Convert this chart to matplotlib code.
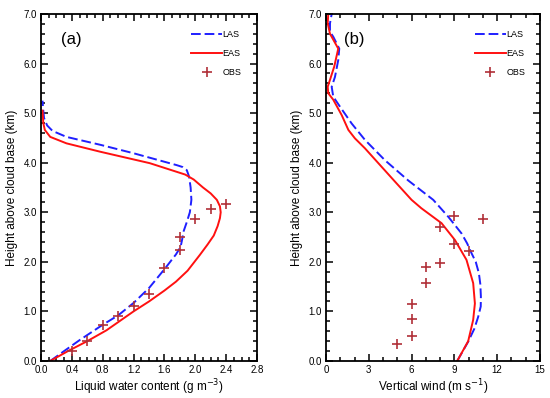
import numpy as np
import matplotlib
matplotlib.use("Agg")
import matplotlib.pyplot as plt
from matplotlib.ticker import MultipleLocator, FormatStrFormatter

# panel (a): liquid water content
lwc_las_x = [0.12, 0.3, 0.5, 0.8, 1.0, 1.2, 1.4, 1.6, 1.75, 1.81, 1.83, 1.85, 1.89, 1.93, 1.95,
             1.94, 1.92, 1.89, 1.84, 1.76, 1.2, 0.77, 0.33, 0.15, 0.08, 0.04, 0.03, 0.02]
lwc_las_y = [0.0, 0.2, 0.42, 0.73, 0.92, 1.17, 1.47, 1.85, 2.15, 2.3, 2.45, 2.62, 2.8, 3.0, 3.25,
             3.5, 3.72, 3.85, 3.91, 3.95, 4.19, 4.36, 4.52, 4.64, 4.75, 4.9, 5.05, 5.25]
lwc_eas_x = [0.12, 0.35, 0.6, 0.85, 1.2, 1.4, 1.6, 1.75, 1.9, 2.06, 2.16, 2.24, 2.29, 2.32, 2.33,
             2.32, 2.28, 2.2, 2.1, 1.98, 1.87, 1.41, 0.77, 0.33, 0.12, 0.05, 0.03, 0.02]
lwc_eas_y = [0.0, 0.2, 0.4, 0.62, 1.0, 1.2, 1.42, 1.6, 1.82, 2.14, 2.35, 2.53, 2.72, 2.88, 3.0,
             3.12, 3.25, 3.38, 3.5, 3.66, 3.76, 3.99, 4.22, 4.39, 4.52, 4.66, 4.8, 5.05]
lwc_obs_x = [0.4, 0.6, 0.8, 1.0, 1.2, 1.4, 1.6, 1.8, 1.8, 2.0, 2.2, 2.4]
lwc_obs_y = [0.21, 0.40, 0.73, 0.90, 1.10, 1.35, 1.88, 2.24, 2.50, 2.86, 3.06, 3.17]

# panel (b): vertical wind
w_las_x = [9.2, 9.97, 10.4, 10.67, 10.85, 10.86, 10.82, 10.72, 10.5, 10.21, 9.9, 9.51, 8.57,
           7.52, 5.77, 4.13, 2.73, 1.8, 0.98, 0.51, 0.4, 0.63, 0.86, 0.93, 0.51, 0.28, 0.28, 0.4]
w_las_y = [0.0, 0.39, 0.65, 0.89, 1.1, 1.3, 1.55, 1.77, 2.0, 2.17, 2.37, 2.57, 2.91,
           3.25, 3.64, 4.05, 4.46, 4.79, 5.13, 5.33, 5.53, 5.73, 6.07, 6.3, 6.54, 6.64, 6.81, 7.0]
w_eas_x = [9.2, 9.97, 10.32, 10.44, 10.32, 9.85, 9.04, 8.1, 6.69, 6.0, 4.83, 3.67, 2.73,
           2.03, 1.57, 1.1, 0.51, 0.16, 0.12, 0.28, 0.58, 0.86, 0.28, 0.12, 0.16]
w_eas_y = [0.0, 0.4, 0.83, 1.16, 1.57, 2.04, 2.44, 2.78, 3.08, 3.25, 3.62, 3.99, 4.29,
           4.49, 4.66, 4.96, 5.27, 5.40, 5.53, 5.67, 5.94, 6.3, 6.6, 6.81, 7.0]
w_obs_x = [5, 6, 6, 6, 7, 7, 8, 10, 9, 8, 9, 11]
w_obs_y = [0.34, 0.50, 0.85, 1.14, 1.58, 1.90, 1.98, 2.21, 2.35, 2.71, 2.92, 2.86]

plt.rcParams['font.family'] = ['Liberation Sans', 'DejaVu Sans']

BLUE = '#1f1fff'
RED = '#ff1010'
OBS = '#b03038'

fig = plt.figure(figsize=(5.5, 3.98), dpi=100)
ax1 = fig.add_axes([0.0745, 0.093, 0.3927, 0.872])
ax2 = fig.add_axes([0.5927, 0.093, 0.389, 0.872])


def style(ax, xmax, xmaj, xmin, fmt):
    ax.set_xlim(0, xmax)
    ax.set_ylim(0, 7)
    ax.xaxis.set_major_locator(MultipleLocator(xmaj))
    ax.xaxis.set_minor_locator(MultipleLocator(xmin))
    ax.yaxis.set_major_locator(MultipleLocator(1.0))
    ax.yaxis.set_minor_locator(MultipleLocator(0.2))
    ax.xaxis.set_major_formatter(FormatStrFormatter(fmt))
    ax.yaxis.set_major_formatter(FormatStrFormatter('%.1f'))
    ax.tick_params(which='both', direction='in', top=True, right=True,
                   width=1.1, labelsize=7, pad=3)
    ax.tick_params(which='major', length=5)
    ax.tick_params(which='minor', length=3)
    for s in ax.spines.values():
        s.set_linewidth(1.3)
    ax.set_ylabel('Height above cloud base (km)', fontsize=8.5, labelpad=4)


def draw(ax, lx, ly, ex, ey, ox, oy):
    ax.plot(lx, ly, color=BLUE, lw=1.4, ls=(0, (5, 2)), label='LAS')
    ax.plot(ex, ey, color=RED, lw=1.4, label='EAS')
    ax.plot(ox, oy, ls='none', marker='+', ms=7, mew=1.2, color=OBS, label='OBS')
    ax.legend(loc='upper left', bbox_to_anchor=(0.68, 0.965), frameon=False,
              fontsize=6.5, handlelength=3.4, handletextpad=0.05,
              labelspacing=1.15, borderaxespad=0)


draw(ax1, lwc_las_x, lwc_las_y, lwc_eas_x, lwc_eas_y, lwc_obs_x, lwc_obs_y)
style(ax1, 2.8, 0.4, 0.1, '%.1f')
ax1.set_xlabel('Liquid water content (g m$^{-3}$)', fontsize=8.5, labelpad=1.5)
ax1.text(0.14, 0.925, '(a)', transform=ax1.transAxes, fontsize=12, ha='center', va='center')

draw(ax2, w_las_x, w_las_y, w_eas_x, w_eas_y, w_obs_x, w_obs_y)
style(ax2, 15, 3, 1, '%d')
ax2.set_xlabel('Vertical wind (m s$^{-1}$)', fontsize=8.5, labelpad=1.5)
ax2.text(0.13, 0.925, '(b)', transform=ax2.transAxes, fontsize=12, ha='center', va='center')

fig.savefig('out.png', dpi=100)
